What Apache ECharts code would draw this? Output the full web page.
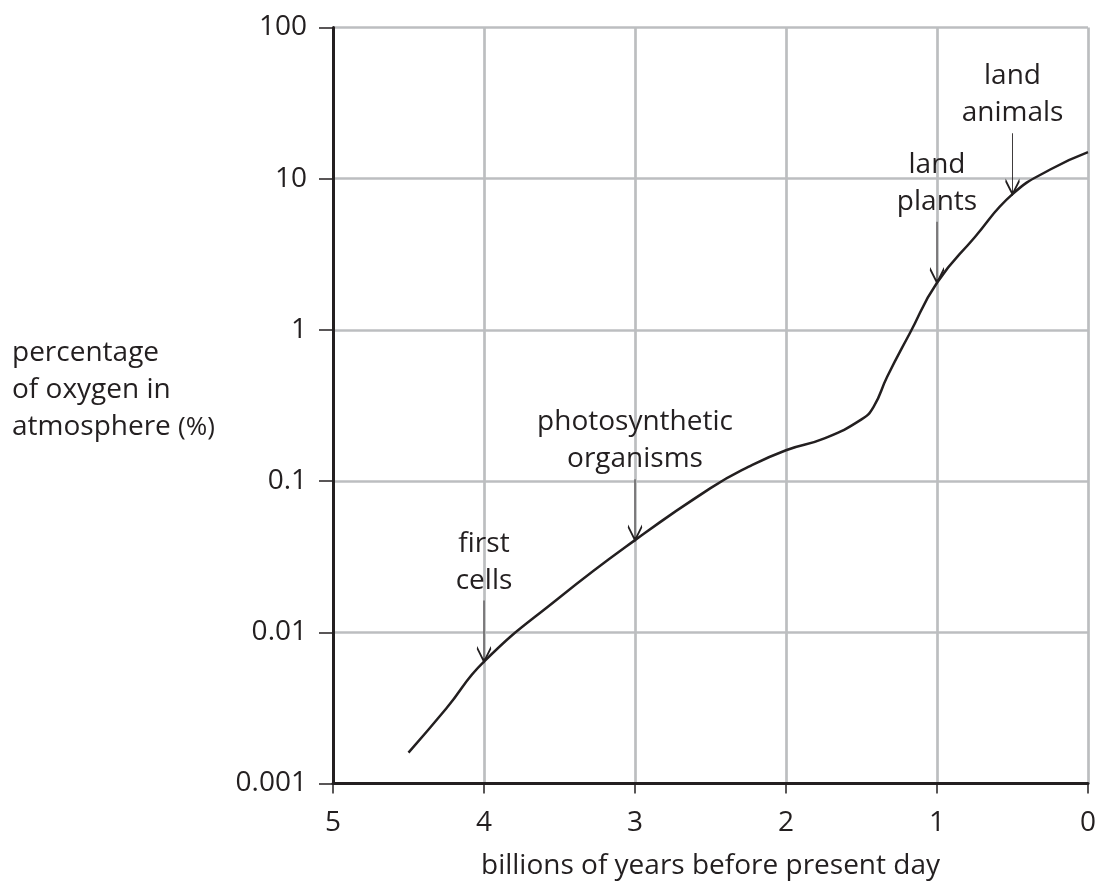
<!DOCTYPE html>
<html>
<head>
<meta charset="utf-8">
<style>html,body{margin:0;padding:0;background:#fff}#c{width:1100px;height:882px}</style>
<script src="https://cdn.jsdelivr.net/npm/echarts@6/dist/echarts.min.js"></script>
</head>
<body>
<div id="c"></div>
<script>
// billions of years before present day
var years  = [4.5, 4.25, 4.0, 3.5, 3.0, 2.5, 2.25, 2.0, 1.75, 1.5, 1.42, 1.33, 1.18, 1.0, 0.75, 0.5, 0.25, 0];
// percentage of oxygen in atmosphere
var oxygen = [0.0016, 0.00313, 0.0064, 0.017, 0.0407, 0.0898, 0.124, 0.16, 0.191, 0.256, 0.31, 0.49, 0.95, 2.05, 4.1, 7.9, 11.5, 15];
// annotated events
var eventNames  = ['first\ncells', 'photosynthetic\norganisms', 'land\nplants', 'land\nanimals'];
var eventYears  = [4.0, 3.0, 1.0, 0.5];
var eventOxygen = [0.0064, 0.0407, 2.05, 7.9];
var xTicks = [0, 1, 2, 3, 4, 5];
var yTicks = ['0.001', '0.01', '0.1', '1', '10', '100'];

var FONT = 'Open Sans';
var INK = '#231f20';
var GRID = '#bcbec0';

var lineData = years.map(function (x, i) { return [x, oxygen[i]]; });
var markData = eventNames.map(function (n, i) {
  return { name: n, coord: [eventYears[i], eventOxygen[i]] };
});

var chart = echarts.init(document.getElementById('c'));
chart.setOption({
  backgroundColor: '#fff',
  animation: false,
  textStyle: { fontFamily: FONT },
  grid: { left: 333, right: 12, top: 27.5, bottom: 98.5, containLabel: false, outerBoundsMode: 'none' },
  xAxis: {
    type: 'value', min: 0, max: 5, interval: 1, inverse: true,
    name: 'billions of years before present day',
    nameLocation: 'middle', nameGap: 69,
    nameTextStyle: { fontSize: 28, color: INK, fontFamily: FONT },
    axisLine: { show: true, onZero: false, lineStyle: { color: INK, width: 3 } },
    axisTick: { show: true, inside: false, length: 10, lineStyle: { color: INK, width: 1.5 } },
    axisLabel: { margin: 26, fontSize: 28, color: INK, fontFamily: FONT,
      formatter: function (v) { return xTicks.indexOf(v) >= 0 ? String(v) : ''; } },
    splitLine: { show: true, lineStyle: { color: GRID, width: 2.7 } }
  },
  yAxis: {
    type: 'log', logBase: 10, min: 0.001, max: 100, position: 'left',
    axisLine: { show: true, onZero: false, lineStyle: { color: INK, width: 3 } },
    axisTick: { show: true, inside: false, length: 14, lineStyle: { color: INK, width: 1.5 } },
    axisLabel: { margin: 26, fontSize: 28, color: INK, fontFamily: FONT,
      formatter: function (v) {
        var e = Math.round(Math.log(v) / Math.LN10);
        return yTicks[e + 3] || '';
      } },
    splitLine: { show: true, lineStyle: { color: GRID, width: 2.7 } }
  },
  series: [{
    type: 'line',
    data: lineData,
    smooth: 0.5,
    showSymbol: false,
    symbol: 'none',
    lineStyle: { color: INK, width: 2.5 },
    z: 5,
    markPoint: {
      symbol: 'path://M7,0L7,61M0,47L7,61L14,47',
      symbolSize: [14, 61],
      symbolKeepAspect: false,
      symbolOffset: [0, '-50%'],
      itemStyle: { color: 'none', borderColor: INK, borderWidth: 1.8 },
      label: {
        show: true, position: 'top', distance: -4,
        formatter: function (p) { return p.name; },
        fontSize: 28, lineHeight: 37, color: INK, fontFamily: FONT, align: 'center'
      },
      data: markData
    }
  }],
  graphic: [{
    type: 'text', left: 12, top: 335,
    style: {
      text: 'percentage\nof oxygen in\natmosphere {s|(%)}',
      fontSize: 28, lineHeight: 37, fill: INK, fontFamily: FONT,
      rich: { s: { fontSize: 26, fontFamily: FONT, fill: INK } }
    }
  }]
});
</script>
</body>
</html>
